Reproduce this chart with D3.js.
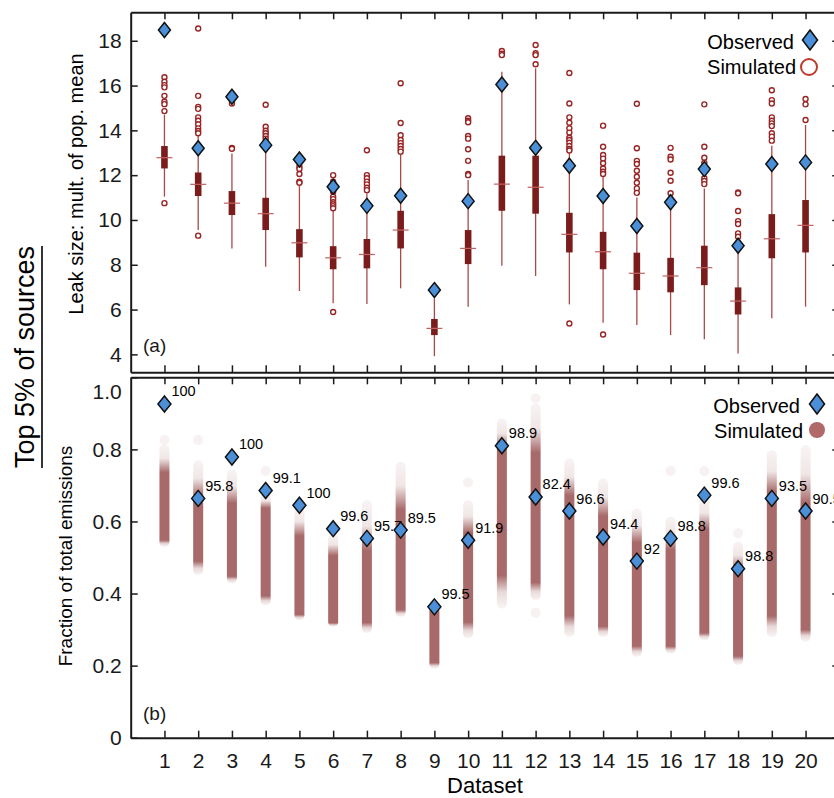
<!DOCTYPE html>
<html>
<head>
<meta charset="utf-8">
<script src="https://cdn.jsdelivr.net/npm/d3@7"></script>
<style>
  html, body { margin: 0; padding: 0; background: #fff; }
  svg { display: block; font-family: "Liberation Sans", Arial, Helvetica, sans-serif; }
</style>
</head>
<body>
<svg id="chart" width="834" height="798"></svg>
<script>
// ---- Data -------------------------------------------------------------
const datasets = [1, 2, 3, 4, 5, 6, 7, 8, 9, 10, 11, 12, 13, 14, 15, 16, 17, 18, 19, 20];

// (a) leak size of top 5% of sources, as multiple of population mean
const leakObserved = [18.48, 13.2, 15.5, 13.34, 12.7, 11.48, 10.63, 11.08, 6.87, 10.84,
                      16.05, 13.22, 12.42, 11.07, 9.73, 10.79, 12.27, 8.85, 12.5, 12.57];
const leakMedian = [12.78, 11.59, 10.75, 10.28, 8.98, 8.31, 8.46, 9.55, 5.16, 8.73,
                    11.6, 11.46, 9.36, 8.58, 7.62, 7.5, 7.87, 6.38, 9.16, 9.76];
const leakQ1 = [12.3, 11.07, 10.22, 9.55, 8.33, 7.8, 7.84, 8.73, 4.86, 8.03,
                10.41, 10.28, 8.55, 7.8, 6.87, 6.77, 7.09, 5.78, 8.29, 8.55];
const leakQ3 = [13.3, 12.12, 11.29, 10.99, 9.59, 8.83, 9.15, 10.41, 5.58, 9.55,
                12.87, 12.87, 10.32, 9.47, 8.54, 8.31, 8.85, 6.99, 10.26, 10.89];
const leakWhiskerLow = [11.04, 9.55, 8.73, 7.91, 6.83, 6.28, 6.25, 6.95, 3.92, 6.13,
                        7.96, 7.5, 6.23, 5.41, 5.31, 4.86, 4.67, 4.04, 5.61, 6.13];
const leakWhiskerHigh = [14.7, 13.75, 12.97, 13.57, 11.56, 10.45, 11.19, 12.95, 6.5, 11.78,
                         16.62, 16.77, 13.0, 11.93, 11.0, 11.0, 11.41, 9.18, 13.31, 14.24];
const leakOutliers = [
  [16.37, 16.17, 16.02, 15.92, 15.54, 15.28, 15.17, 14.86, 10.75],
  [18.55, 15.54, 15.05, 14.96, 14.58, 14.43, 14.27, 14.09, 13.97, 13.87, 9.3],
  [15.2, 13.22, 13.18],
  [15.14, 14.16, 13.98, 13.87, 13.75, 13.63],
  [12.38, 12.28, 12.05, 11.71, 11.66],
  [12.0, 11.71, 11.44, 11.26, 11.04, 10.93, 10.79, 10.7, 10.62, 10.52, 5.89],
  [13.11, 12.0, 11.86, 11.71, 11.59, 11.44, 11.33],
  [16.1, 14.33, 13.78, 13.57, 13.43, 13.3, 13.17, 13.05],
  [],
  [14.54, 14.43, 14.36, 13.75, 13.63, 13.16, 12.64, 12.05, 12.0],
  [17.54, 17.42, 17.36],
  [17.81, 17.44, 17.36, 16.95],
  [16.56, 15.2, 14.58, 14.34, 14.09, 13.9, 13.67, 13.57, 13.45, 13.3, 13.17, 13.1, 5.38],
  [14.21, 13.27, 12.9, 12.74, 12.53, 12.3, 12.15, 12.05, 4.89],
  [15.19, 13.2, 12.64, 12.5, 12.2, 11.93, 11.66, 11.41, 11.21],
  [13.22, 12.82, 12.7, 12.11, 11.75, 11.19],
  [15.16, 13.27, 12.78, 12.55, 11.86, 11.74, 11.6],
  [11.23, 11.19, 10.4, 9.95, 9.82, 9.4, 9.25],
  [15.79, 15.35, 15.2, 14.58, 14.43, 14.31, 14.19, 13.87, 13.72, 13.54],
  [15.4, 15.16, 14.46]
];
const leakTicks = [4, 6, 8, 10, 12, 14, 16, 18];

// (b) fraction of total emissions from top 5% of sources
const fracObserved = [0.926, 0.664, 0.779, 0.686, 0.645, 0.58, 0.553, 0.576, 0.363, 0.548,
                      0.81, 0.668, 0.629, 0.557, 0.49, 0.553, 0.673, 0.469, 0.664, 0.629];
const fracLabels = ["100", "95.8", "100", "99.1", "100", "99.6", "95.7", "89.5", "99.5", "91.9",
                    "98.9", "82.4", "96.6", "94.4", "92", "98.8", "99.6", "98.8", "93.5", "90.5"];
// simulated clouds: faint extent, dense core, isolated faint draws
const simFaintHigh = [0.80, 0.756, 0.73, 0.664, 0.627, 0.553, 0.645, 0.752, 0.35, 0.645,
                      0.872, 0.914, 0.761, 0.705, 0.622, 0.599, 0.654, 0.53, 0.784, 0.798];
const simDenseHigh = [0.73, 0.664, 0.645, 0.627, 0.553, 0.498, 0.515, 0.627, 0.344, 0.562,
                      0.793, 0.784, 0.664, 0.608, 0.534, 0.515, 0.571, 0.46, 0.673, 0.645];
const simDenseLow = [0.56, 0.50, 0.46, 0.405, 0.354, 0.331, 0.331, 0.367, 0.219, 0.331,
                     0.46, 0.442, 0.349, 0.321, 0.266, 0.266, 0.303, 0.238, 0.349, 0.312];
const simFaintLow = [0.543, 0.465, 0.442, 0.381, 0.34, 0.321, 0.304, 0.349, 0.205, 0.289,
                     0.372, 0.395, 0.293, 0.293, 0.238, 0.247, 0.284, 0.215, 0.293, 0.28];
const simIsolated = [[0.826], [0.826], [], [0.74], [], [], [], [], [], [0.708],
                     [], [0.942, 0.347], [], [], [], [0.74], [0.74], [0.567], [], []];
const fracTicks = [0, 0.2, 0.4, 0.6, 0.8, 1.0];

// ---- Layout -----------------------------------------------------------
const svg = d3.select("#chart");
const defs = svg.append("defs");

const x = d3.scaleLinear().domain([0, 21]).range([130.7, 839.3]);
const yTop = d3.scaleLinear().domain([3.2, 19.27]).range([372.3, 12.3]);
const yBot = d3.scaleLinear().domain([0, 1]).range([737.7, 377.3]);

const INK = "#1a1a1a";
const BOX = "#7a1c1c";
const WHISK = "#a84a4a";
const OUTL = "#9a2424";
const BLUE = "#4a8fd8";
const CLOUD = "#8f3f3f";

function diamond(w, h) {
  return `M0,${-h / 2}L${w / 2},0L0,${h / 2}L${-w / 2},0Z`;
}

// four-sided frame with inward ticks; returns the left and bottom axis groups
function frame(g, yScale, ticks, fmt) {
  const [x0, x1] = x.range();
  const [yb, yt] = yScale.range();
  const styleAxis = sel => {
    sel.selectAll(".domain").attr("stroke", INK).attr("stroke-width", 2).attr("fill", "none");
    sel.selectAll(".tick line").attr("stroke", INK).attr("stroke-width", 1.5);
    sel.selectAll(".tick text").attr("fill", INK).attr("font-size", 21)
      .attr("font-family", "'Liberation Sans', Arial, sans-serif");
  };
  const left = g.append("g").attr("transform", `translate(${x0},0)`)
    .call(d3.axisLeft(yScale).tickValues(ticks).tickSize(-7).tickPadding(9).tickFormat(fmt).tickSizeOuter(0))
    .call(styleAxis);
  g.append("g").attr("transform", `translate(${x1},0)`)
    .call(d3.axisRight(yScale).tickValues(ticks).tickSize(-7).tickFormat("").tickSizeOuter(0))
    .call(styleAxis);
  g.append("g").attr("transform", `translate(0,${yt})`)
    .call(d3.axisTop(x).tickValues(datasets).tickSize(-7).tickFormat("").tickSizeOuter(0))
    .call(styleAxis);
  const bottom = g.append("g").attr("transform", `translate(0,${yb})`)
    .call(d3.axisBottom(x).tickValues(datasets).tickSize(-7).tickPadding(15).tickSizeOuter(0))
    .call(styleAxis);
  return { left, bottom };
}

// ---- Panel (a): box plots --------------------------------------------
const gA = svg.append("g");
const topAxes = frame(gA, yTop, leakTicks, d3.format("d"));
topAxes.bottom.selectAll(".tick text").remove();

const boxes = gA.append("g").selectAll("g").data(datasets).join("g")
  .attr("transform", d => `translate(${x(d)},0)`);

boxes.append("line")
  .attr("y1", (d, i) => yTop(leakWhiskerLow[i]))
  .attr("y2", (d, i) => yTop(leakWhiskerHigh[i]))
  .attr("stroke", WHISK).attr("stroke-width", 1.3);

boxes.append("rect")
  .attr("x", -3.3).attr("width", 6.6)
  .attr("y", (d, i) => yTop(leakQ3[i]))
  .attr("height", (d, i) => yTop(leakQ1[i]) - yTop(leakQ3[i]))
  .attr("fill", BOX);

boxes.append("line")
  .attr("x1", -8).attr("x2", 8)
  .attr("y1", (d, i) => yTop(leakMedian[i]))
  .attr("y2", (d, i) => yTop(leakMedian[i]))
  .attr("stroke", "#c06262").attr("stroke-width", 1.2);

boxes.selectAll("circle").data((d, i) => leakOutliers[i]).join("circle")
  .attr("cx", 0).attr("cy", v => yTop(v)).attr("r", 2.5)
  .attr("fill", "#fff").attr("stroke", OUTL).attr("stroke-width", 1.4);

boxes.append("path")
  .attr("transform", (d, i) => `translate(0,${yTop(leakObserved[i])})`)
  .attr("d", diamond(12, 15))
  .attr("fill", BLUE).attr("stroke", "#111").attr("stroke-width", 1.5);

gA.append("text").attr("x", 143).attr("y", 352).attr("font-size", 19).attr("fill", INK).text("(a)");

// legend (a)
gA.append("text").attr("x", 794).attr("y", 49).attr("text-anchor", "end")
  .attr("font-size", 20).attr("fill", "#000").text("Observed");
gA.append("path").attr("transform", "translate(810,40)").attr("d", diamond(15, 20))
  .attr("fill", BLUE).attr("stroke", "#111").attr("stroke-width", 1.6);
gA.append("text").attr("x", 796).attr("y", 73.5).attr("text-anchor", "end")
  .attr("font-size", 20).attr("fill", "#000").text("Simulated");
gA.append("circle").attr("cx", 809).attr("cy", 67).attr("r", 8)
  .attr("fill", "#fff").attr("stroke", "#c0392b").attr("stroke-width", 2);

// ---- Panel (b): fraction of emissions ---------------------------------
const gB = svg.append("g");
const clouds = gB.append("g");

datasets.forEach((d, i) => {
  const yHi = yBot(simFaintHigh[i]);
  const yLo = yBot(simFaintLow[i]);
  const h = yLo - yHi;
  const off = v => Math.max(0, Math.min(1, (yBot(v) - yHi) / h));
  const grad = defs.append("linearGradient")
    .attr("id", `cloud${d}`).attr("x1", 0).attr("x2", 0).attr("y1", 0).attr("y2", 1);
  const stops = [
    [0, 0.06],
    [off(simDenseHigh[i]) * 0.5, 0.13],
    [off(simDenseHigh[i]), 0.78],
    [off(simDenseLow[i]), 0.78],
    [off(simDenseLow[i]) + (1 - off(simDenseLow[i])) * 0.5, 0.2],
    [1, 0.05]
  ];
  stops.forEach(([o, a]) => grad.append("stop").attr("offset", o)
    .attr("stop-color", CLOUD).attr("stop-opacity", a));
  clouds.append("rect")
    .attr("x", x(d) - 5).attr("width", 10)
    .attr("y", yHi - 5).attr("height", h + 10).attr("rx", 5)
    .attr("fill", `url(#cloud${d})`);
  simIsolated[i].forEach(v => {
    clouds.append("circle").attr("cx", x(d)).attr("cy", yBot(v)).attr("r", 5)
      .attr("fill", CLOUD).attr("fill-opacity", 0.07);
  });
});

const botAxes = frame(gB, yBot, fracTicks, v => (v === 0 ? "0" : d3.format(".1f")(v)));
// the top tick label sits just inside the panel corner
botAxes.left.selectAll(".tick").filter(v => v === 1).select("text").attr("dy", "1.0em");

const obs = gB.append("g").selectAll("g").data(datasets).join("g")
  .attr("transform", (d, i) => `translate(${x(d)},${yBot(fracObserved[i])})`);
obs.append("path").attr("d", diamond(13, 16))
  .attr("fill", BLUE).attr("stroke", "#111").attr("stroke-width", 1.5);
obs.append("text").attr("x", 7).attr("y", -7.5)
  .attr("font-size", 14.5).attr("fill", "#000")
  .text((d, i) => fracLabels[i]);

gB.append("text").attr("x", 143).attr("y", 720).attr("font-size", 19).attr("fill", INK).text("(b)");

// legend (b)
gB.append("text").attr("x", 800).attr("y", 413).attr("text-anchor", "end")
  .attr("font-size", 20).attr("fill", "#000").text("Observed");
gB.append("path").attr("transform", "translate(817,404)").attr("d", diamond(15, 20))
  .attr("fill", BLUE).attr("stroke", "#111").attr("stroke-width", 1.6);
gB.append("text").attr("x", 803).attr("y", 438).attr("text-anchor", "end")
  .attr("font-size", 20).attr("fill", "#000").text("Simulated");
gB.append("circle").attr("cx", 817).attr("cy", 430).attr("r", 8).attr("fill", "#b06868");

// ---- Titles -------------------------------------------------------------
svg.append("text").attr("transform", "translate(83,184) rotate(-90)")
  .attr("text-anchor", "middle").attr("font-size", 20).attr("fill", "#000")
  .text("Leak size: mult. of pop. mean");
svg.append("text").attr("transform", "translate(72,556) rotate(-90)")
  .attr("text-anchor", "middle").attr("font-size", 19).attr("fill", "#000")
  .text("Fraction of total emissions");
svg.append("text").attr("x", 485).attr("y", 793).attr("text-anchor", "middle")
  .attr("font-size", 22).attr("fill", "#000").text("Dataset");

const big = svg.append("text").attr("transform", "translate(34,357) rotate(-90)")
  .attr("text-anchor", "middle").attr("font-size", 27).attr("fill", "#000")
  .text("Top 5% of sources");
const bw = big.node().getComputedTextLength();
svg.append("line").attr("x1", 42).attr("x2", 42)
  .attr("y1", 357 - bw / 2).attr("y2", 357 + bw / 2)
  .attr("stroke", "#000").attr("stroke-width", 1.6);
</script>
</body>
</html>
